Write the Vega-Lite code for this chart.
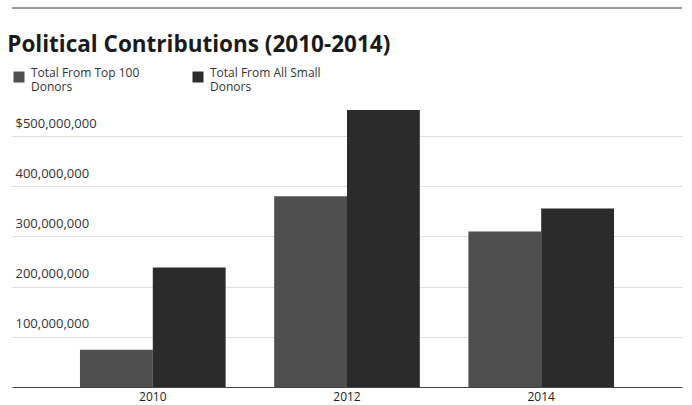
{
  "$schema": "https://vega.github.io/schema/vega-lite/v6.json",
  "width": 670,
  "height": 291,
  "autosize": "none",
  "padding": {"left": 12, "top": 96, "right": 10, "bottom": 18},
  "background": "white",
  "config": {
    "font": "Open Sans",
    "view": {"stroke": null}
  },
  "title": {
    "text": "Political Contributions (2010-2014)",
    "anchor": "start",
    "fontSize": 22.5,
    "fontWeight": "bold",
    "font": "Open Sans",
    "color": "#1a1a1a",
    "dx": -4,
    "offset": -49
  },
  "data": {
    "values": [
      {"year": "2010", "series": "Total From Top 100 Donors", "amount": 74000000},
      {"year": "2010", "series": "Total From All Small Donors", "amount": 238000000},
      {"year": "2012", "series": "Total From Top 100 Donors", "amount": 380000000},
      {"year": "2012", "series": "Total From All Small Donors", "amount": 552000000},
      {"year": "2014", "series": "Total From Top 100 Donors", "amount": 310000000},
      {"year": "2014", "series": "Total From All Small Donors", "amount": 356000000}
    ]
  },
  "layer": [
    {
      "mark": {"type": "bar"},
      "encoding": {
        "x": {
          "field": "year",
          "type": "nominal",
          "scale": {"paddingInner": 0.25, "paddingOuter": 0.35},
          "axis": {
            "title": null,
            "labelAngle": 0,
            "labelFontSize": 12,
            "labelColor": "#222",
            "labelPadding": 4,
            "ticks": false,
            "domainColor": "#444",
            "domainWidth": 1
          }
        },
        "xOffset": {
          "field": "series",
          "type": "nominal",
          "sort": ["Total From Top 100 Donors", "Total From All Small Donors"]
        },
        "y": {
          "field": "amount",
          "type": "quantitative",
          "scale": {"domain": [0, 580000000], "nice": false},
          "axis": {
            "title": null,
            "values": [100000000, 200000000, 300000000, 400000000, 500000000],
            "labelExpr": "datum.value == 500000000 ? '$500,000,000' : format(datum.value, ',')",
            "grid": true,
            "gridColor": "#dddddd",
            "domain": false,
            "ticks": false,
            "tickSize": 0,
            "labelAlign": "left",
            "labelBaseline": "bottom",
            "labelPadding": -3,
            "labelOffset": -6,
            "labelFontSize": 13,
            "labelColor": "#333"
          }
        },
        "color": {
          "field": "series",
          "type": "nominal",
          "scale": {
            "domain": ["Total From Top 100 Donors", "Total From All Small Donors"],
            "range": ["#4f4f4f", "#2b2b2b"]
          },
          "legend": {
            "title": null,
            "orient": "none",
            "legendX": 1,
            "legendY": -25,
            "direction": "horizontal",
            "symbolType": "square",
            "symbolSize": 121,
            "symbolStrokeWidth": 0,
            "labelFontSize": 12,
            "labelColor": "#333",
            "labelOffset": 6,
            "labelLineHeight": 13,
            "labelExpr": "datum.label == 'Total From Top 100 Donors' ? ['Total From Top 100', 'Donors'] : ['Total From All Small', 'Donors']",
            "columnPadding": 52,
            "labelBaseline": "alphabetic"
          }
        }
      }
    },
    {
      "mark": {"type": "rule", "color": "#999", "strokeWidth": 1.5, "clip": false},
      "encoding": {"y": {"datum": 755000000}}
    }
  ]
}
